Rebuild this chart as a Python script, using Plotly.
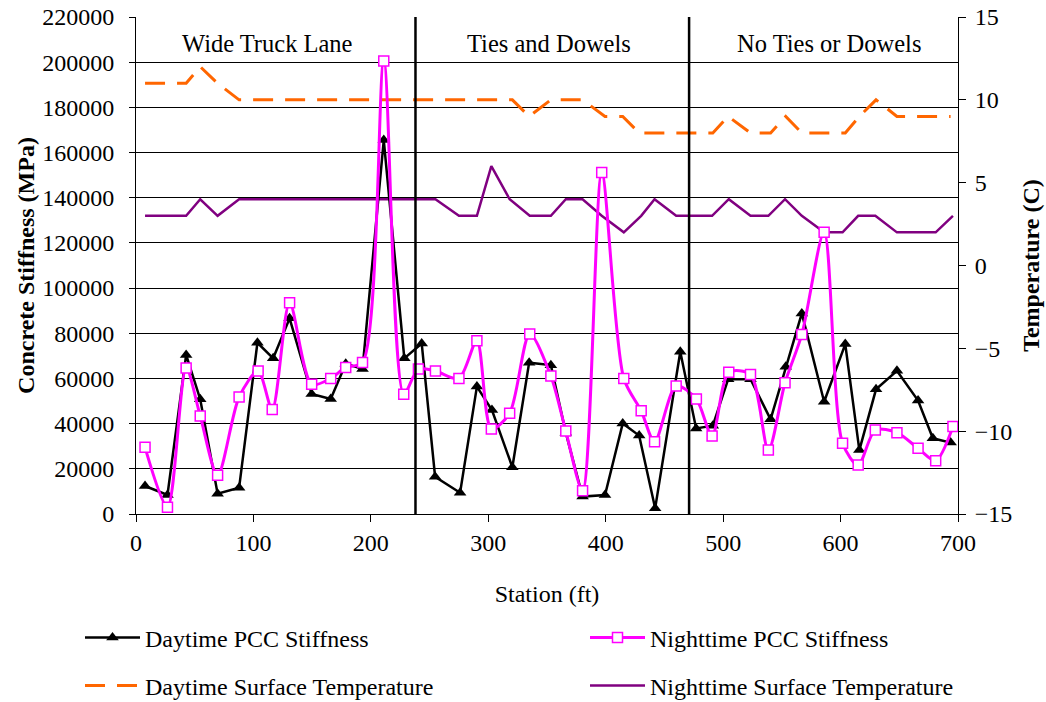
import plotly.graph_objects as go

# ---- data ----
day_station = [7.7, 26.8, 42.7, 54.7, 69.5, 87.8, 103.4, 116.8, 130.8, 149.6, 165.8, 178.6, 192.9, 211, 228.5,
               243.3, 254.7, 276, 290.3, 303.1, 320.5, 334.8, 353.3, 366, 380.3, 399.4, 414.5, 428.5, 442.1,
               463.5, 477, 491.2, 504.3, 523.3, 540.4, 553.3, 567, 586, 604, 616, 630.2, 648, 666, 678.6, 693.7]
day_stiffness = [12400, 8400, 70400, 50800, 9000, 11600, 75800, 68900, 86600, 53100, 50900, 66500, 64200,
                 165500, 68900, 75500, 16500, 9400, 56400, 46000, 20700, 67000, 65900, 36000, 7700, 8400,
                 40100, 34700, 2500, 71800, 37900, 39100, 59700, 59700, 41900, 65200, 88800, 49700, 75200,
                 28300, 55200, 63400, 50200, 33500, 31600]
day_temp = [11, 11, 11, 12, 11, 10, 10, 10, 10, 10, 10, 10, 10, 10, 10, 10, 10, 10, 10, 10, 10,
            9, 10, 10, 10, 9, 9, 8, 8, 8, 8, 8, 9, 8, 8, 9, 8, 8, 8, 9, 10, 9, 9, 9, 9]

night_station = [7.7, 26.8, 42.7, 54.7, 69.5, 87.8, 104, 116, 130.8, 149.6, 165.8, 178.6, 192.9, 211, 228,
                 240.5, 255, 275, 290.3, 302.6, 318.2, 335.3, 353.3, 366, 380.3, 396.6, 415.4, 430.2, 441.6,
                 460, 477.2, 490.6, 504.8, 523.3, 538.5, 552.7, 567, 586, 601.7, 615, 629.6, 648, 666, 681, 695.7]
night_stiffness = [29500, 3000, 64600, 43400, 17100, 51800, 63300, 46300, 93500, 57400, 60000, 64900, 67100,
                   200500, 53000, 64200, 63300, 60000, 76700, 37600, 44600, 79700, 61100, 36700, 10300, 151200,
                   60000, 45700, 32000, 56700, 50900, 34500, 62700, 61800, 28300, 58100, 79500, 124700, 31300,
                   21700, 37200, 36000, 29100, 23600, 38700]
night_temp = [3, 3, 3, 4, 3, 4, 4, 4, 4, 4, 4, 4, 4, 4, 4, 4, 4, 3, 3, 6, 4, 3, 3, 4, 4, 3, 2, 3, 4,
              3, 3, 3, 4, 3, 3, 4, 3, 2, 2, 3, 3, 2, 2, 2, 3]

section_bounds = [238, 471]
section_labels = ["Wide Truck Lane", "Ties and Dowels", "No Ties or Dowels"]
section_label_x = [112, 352, 590]

FONT = "Liberation Serif"
FS = 24

fig = go.Figure()

fig.add_trace(go.Scatter(
    x=day_station, y=day_temp, name="Daytime Surface Temperature", mode="lines",
    line=dict(color="#FF6600", width=3, dash="20px,12px"), yaxis="y", legend="legend3"))
fig.add_trace(go.Scatter(
    x=night_station, y=night_temp, name="Nighttime Surface Temperature", mode="lines",
    line=dict(color="#800080", width=2.5), yaxis="y", legend="legend4"))
fig.add_trace(go.Scatter(
    x=day_station, y=day_stiffness, name="Daytime PCC Stiffness", mode="lines+markers",
    line=dict(color="black", width=2.5),
    marker=dict(symbol="triangle-up", size=11, color="black"), yaxis="y2", legend="legend"))
fig.add_trace(go.Scatter(
    x=night_station, y=night_stiffness, name="Nighttime PCC Stiffness", mode="lines+markers",
    line=dict(color="#FF00FF", width=3, shape="spline", smoothing=0.8),
    marker=dict(symbol="square", size=10, color="white", line=dict(color="#FF00FF", width=1.5)),
    yaxis="y2", legend="legend2"))

for b in section_bounds:
    fig.add_shape(type="line", xref="x", yref="paper", x0=b, x1=b, y0=0, y1=1,
                  line=dict(color="black", width=2.5), layer="above")

for lab, lx in zip(section_labels, section_label_x):
    fig.add_annotation(x=lx, y=0.9457, xref="x", yref="paper", text=lab, showarrow=False,
                       font=dict(family=FONT, size=24.5, color="black"), xanchor="center", yanchor="middle")


def legend_at(xpx, ypx):
    return dict(orientation="h", xref="container", yref="container", xanchor="left", yanchor="middle",
                x=xpx / 1046, y=1 - ypx / 702, itemwidth=55, visible=True,
                font=dict(family=FONT, size=FS, color="black"), bgcolor="rgba(0,0,0,0)")


fig.update_layout(
    width=1046, height=702,
    showlegend=True,
    margin=dict(l=136, r=88, t=17, b=188, autoexpand=False),
    paper_bgcolor="white", plot_bgcolor="white",
    font=dict(family=FONT, size=FS, color="black"),
    xaxis=dict(range=[0, 700], dtick=100, tick0=0, showgrid=False, zeroline=False, automargin=False,
               showline=True, linecolor="black", linewidth=1, ticks="outside", ticklen=7,
               tickcolor="black", tickfont=dict(family=FONT, size=FS),
               title=dict(text="Station (ft)", font=dict(family=FONT, size=FS), standoff=30)),
    yaxis=dict(range=[-15, 15], dtick=5, tick0=-15, side="right", showgrid=False, zeroline=False,
               automargin=False, ticklabelstandoff=4,
               showline=True, linecolor="black", linewidth=1, ticks="outside", ticklen=7,
               tickcolor="black", tickfont=dict(family=FONT, size=FS),
               title=dict(text="<b>Temperature (C)</b>", font=dict(family=FONT, size=FS), standoff=10)),
    yaxis2=dict(range=[0, 220000], dtick=20000, tick0=0, overlaying="y", side="left", automargin=False,
                ticklabelstandoff=10,
                showgrid=True, gridcolor="black", gridwidth=1, zeroline=False,
                showline=True, linecolor="black", linewidth=1, ticks="outside", ticklen=6,
                tickcolor="black", tickformat="d", tickfont=dict(family=FONT, size=FS),
                title=dict(text="<b>Concrete Stiffness (MPa)</b>", font=dict(family=FONT, size=FS), standoff=0)),
    legend=legend_at(80, 638),
    legend2=legend_at(585, 638),
    legend3=legend_at(80, 686),
    legend4=legend_at(585, 686),
)

fig.write_html("out.html")
